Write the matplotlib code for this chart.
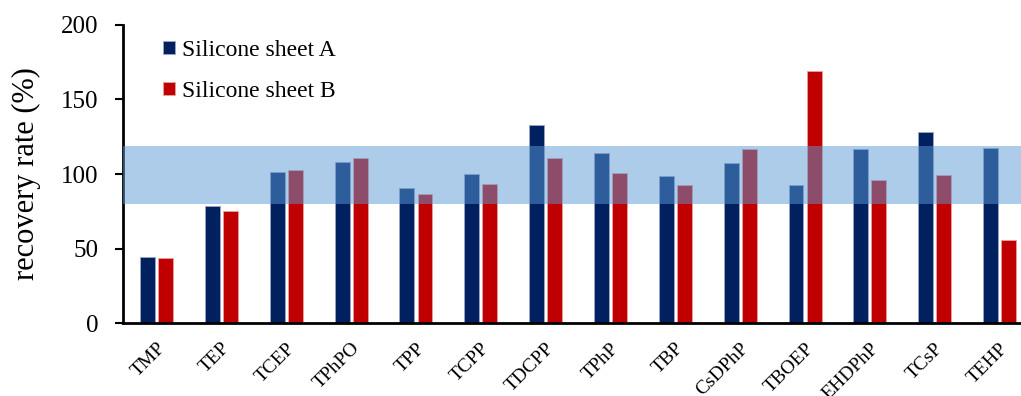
import numpy as np
import matplotlib.pyplot as plt

# compounds and recovery rates (%)
compounds = ['TMP', 'TEP', 'TCEP', 'TPhPO', 'TPP', 'TCPP', 'TDCPP',
             'TPhP', 'TBP', 'CsDPhP', 'TBOEP', 'EHDPhP', 'TCsP', 'TEHP']
sheet_a = [44.3, 78.5, 101.5, 107.8, 90.8, 100.2, 132.6,
           114.3, 98.6, 107.1, 92.8, 116.5, 127.9, 117.2]
sheet_b = [43.6, 75.1, 102.9, 110.7, 86.5, 93.0, 110.7,
           100.9, 92.8, 116.5, 169.3, 95.7, 99.3, 55.7]
band_low, band_high = 80, 119

plt.rcParams['font.family'] = ['Liberation Serif', 'DejaVu Serif']

fig = plt.figure(figsize=(10.21, 3.96), dpi=100)
ax = fig.add_axes([0.1205, 0.1843, 0.8795, 0.7526])

x = np.arange(len(compounds))
w = 0.23
ax.bar(x - 0.139, sheet_a, w, color='#002060', edgecolor='#9aa6c4',
       linewidth=0.6, label='Silicone sheet A', zorder=2)
ax.bar(x + 0.139, sheet_b, w, color='#C00000', edgecolor='#e8a0a0',
       linewidth=0.6, label='Silicone sheet B', zorder=2)

# acceptable range band
ax.axhspan(band_low, band_high, color='#5B9BD5', alpha=0.5, lw=0, zorder=3)

ax.set_xlim(-0.517, 13.33)
ax.set_ylim(0, 200)
ax.set_yticks([0, 50, 100, 150, 200])
ax.set_xticks(x)
ax.set_xticklabels(compounds, rotation=45, ha='right', rotation_mode='anchor',
                   fontsize=14)
ax.tick_params(axis='x', length=0, pad=12)
ax.tick_params(axis='y', labelsize=18, width=1.5, length=6, direction='out',
               pad=12)
ax.set_ylabel('recovery rate (%)', fontsize=22, labelpad=14)

for s in ['top', 'right']:
    ax.spines[s].set_visible(False)
for s in ['left', 'bottom']:
    ax.spines[s].set_linewidth(2)

ax.legend(loc='upper left', bbox_to_anchor=(0.0445, 0.95), frameon=False,
          fontsize=17, handlelength=0.5, handleheight=0.5, handletextpad=0.3,
          labelspacing=0.85, borderpad=0, borderaxespad=0)

fig.savefig('out.png', dpi=100)
